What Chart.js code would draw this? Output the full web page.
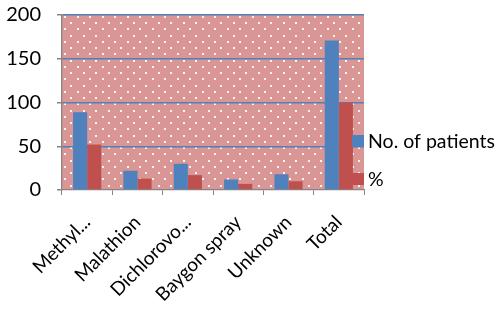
<!DOCTYPE html>
<html>
<head>
<meta charset="utf-8">
<script src="https://cdn.jsdelivr.net/npm/chart.js@4/dist/chart.umd.min.js"></script>
<style>
  html, body { margin: 0; padding: 0; background: #fff; }
  #wrap { width: 501px; height: 312px; }
</style>
</head>
<body>
<div id="wrap"><canvas id="c" width="501" height="312"></canvas></div>
<script>
const categories = ['Methyl...', 'Malathion', 'Dichlorovo...', 'Baygon spray', 'Unknown', 'Total']
const patients = [89, 22, 30, 12, 18, 171]
const percent = [52, 13, 17, 7, 10, 100]
const yTicks = [0, 50, 100, 150, 200]

const FONT = 'Lato, "Open Sans", sans-serif'
const BLUE = '#4F81BD'
const RED = '#C0504D'
const GREY = '#868686'

// dotted pink fill like the spreadsheet pattern
function dotPattern(ctx) {
  const tile = document.createElement('canvas')
  tile.width = 25
  tile.height = 25
  const t = tile.getContext('2d')
  t.fillStyle = '#D99694'
  t.fillRect(0, 0, 25, 25)
  t.fillStyle = 'rgba(255,255,255,0.9)'
  const rows = [[1, 2, 15], [7, 8, 21], [13, 2, 15], [20, 8, 21]]
  rows.forEach(([y, x1, x2]) => {
    t.fillRect(x1, y, 2, 2)
    t.fillRect(x2, y, 2, 2)
  })
  return ctx.createPattern(tile, 'repeat')
}

const bgPlugin = {
  id: 'patternBg',
  beforeDraw(chart) {
    const { ctx, chartArea: a } = chart
    ctx.save()
    ctx.translate(a.left, a.top)
    ctx.fillStyle = dotPattern(ctx)
    ctx.fillRect(0, 0, a.right - a.left, a.bottom - a.top)
    ctx.restore()
  }
}

// legend sits over the right edge of the plot, as in the original
const legendPlugin = {
  id: 'overlapLegend',
  afterDatasetsDraw(chart) {
    const ctx = chart.ctx
    const items = [
      { y: 135, h: 12, text: chart.data.datasets[0].label, color: BLUE },
      { y: 173, h: 12, text: chart.data.datasets[1].label, color: RED }
    ]
    ctx.save()
    items.forEach(it => {
      ctx.fillStyle = it.color
      ctx.fillRect(352, it.y, 12, it.h)
      ctx.fillStyle = '#000'
      ctx.font = '19.5px ' + FONT
      ctx.textBaseline = 'middle'
      ctx.textAlign = 'left'
      ctx.fillText(it.text, 368, it.y + it.h / 2 + 1)
    })
    ctx.restore()
  }
}

new Chart(document.getElementById('c'), {
  type: 'bar',
  data: {
    labels: categories,
    datasets: [
      { label: 'No. of patients', data: patients, backgroundColor: BLUE },
      { label: '%', data: percent, backgroundColor: RED }
    ]
  },
  options: {
    responsive: false,
    animation: false,
    devicePixelRatio: 1,
    layout: { padding: { left: 0, right: 137, top: 15, bottom: 0 } },
    datasets: { bar: { categoryPercentage: 0.56, barPercentage: 1 } },
    plugins: { legend: { display: false }, tooltip: { enabled: false } },
    scales: {
      x: {
        grid: { drawOnChartArea: false, offset: true, tickLength: 5, color: GREY, tickColor: GREY },
        border: { color: GREY, width: 1.3 },
        ticks: {
          color: '#000', font: { family: FONT, size: 19 },
          minRotation: 45, maxRotation: 45, autoSkip: false, padding: 16
        },
        afterFit(scale) {
          scale.height = 122
          scale.paddingLeft = 0
          scale.paddingRight = 0
        }
      },
      y: {
        min: 0, max: 200,
        afterBuildTicks(scale) { scale.ticks = yTicks.map(v => ({ value: v })) },
        grid: {
          color: ctx => ctx.tick && ctx.tick.value === 0 ? 'rgba(0,0,0,0)' : BLUE,
          lineWidth: 1.5, tickLength: 5, tickColor: GREY
        },
        border: { color: GREY, width: 1.3 },
        ticks: { color: '#000', font: { family: FONT, size: 20 }, padding: 16 },
        afterFit(scale) {
          scale.width = 62
          scale.paddingTop = 0
          scale.paddingBottom = 0
        }
      }
    }
  },
  plugins: [bgPlugin, legendPlugin]
})
</script>
</body>
</html>
